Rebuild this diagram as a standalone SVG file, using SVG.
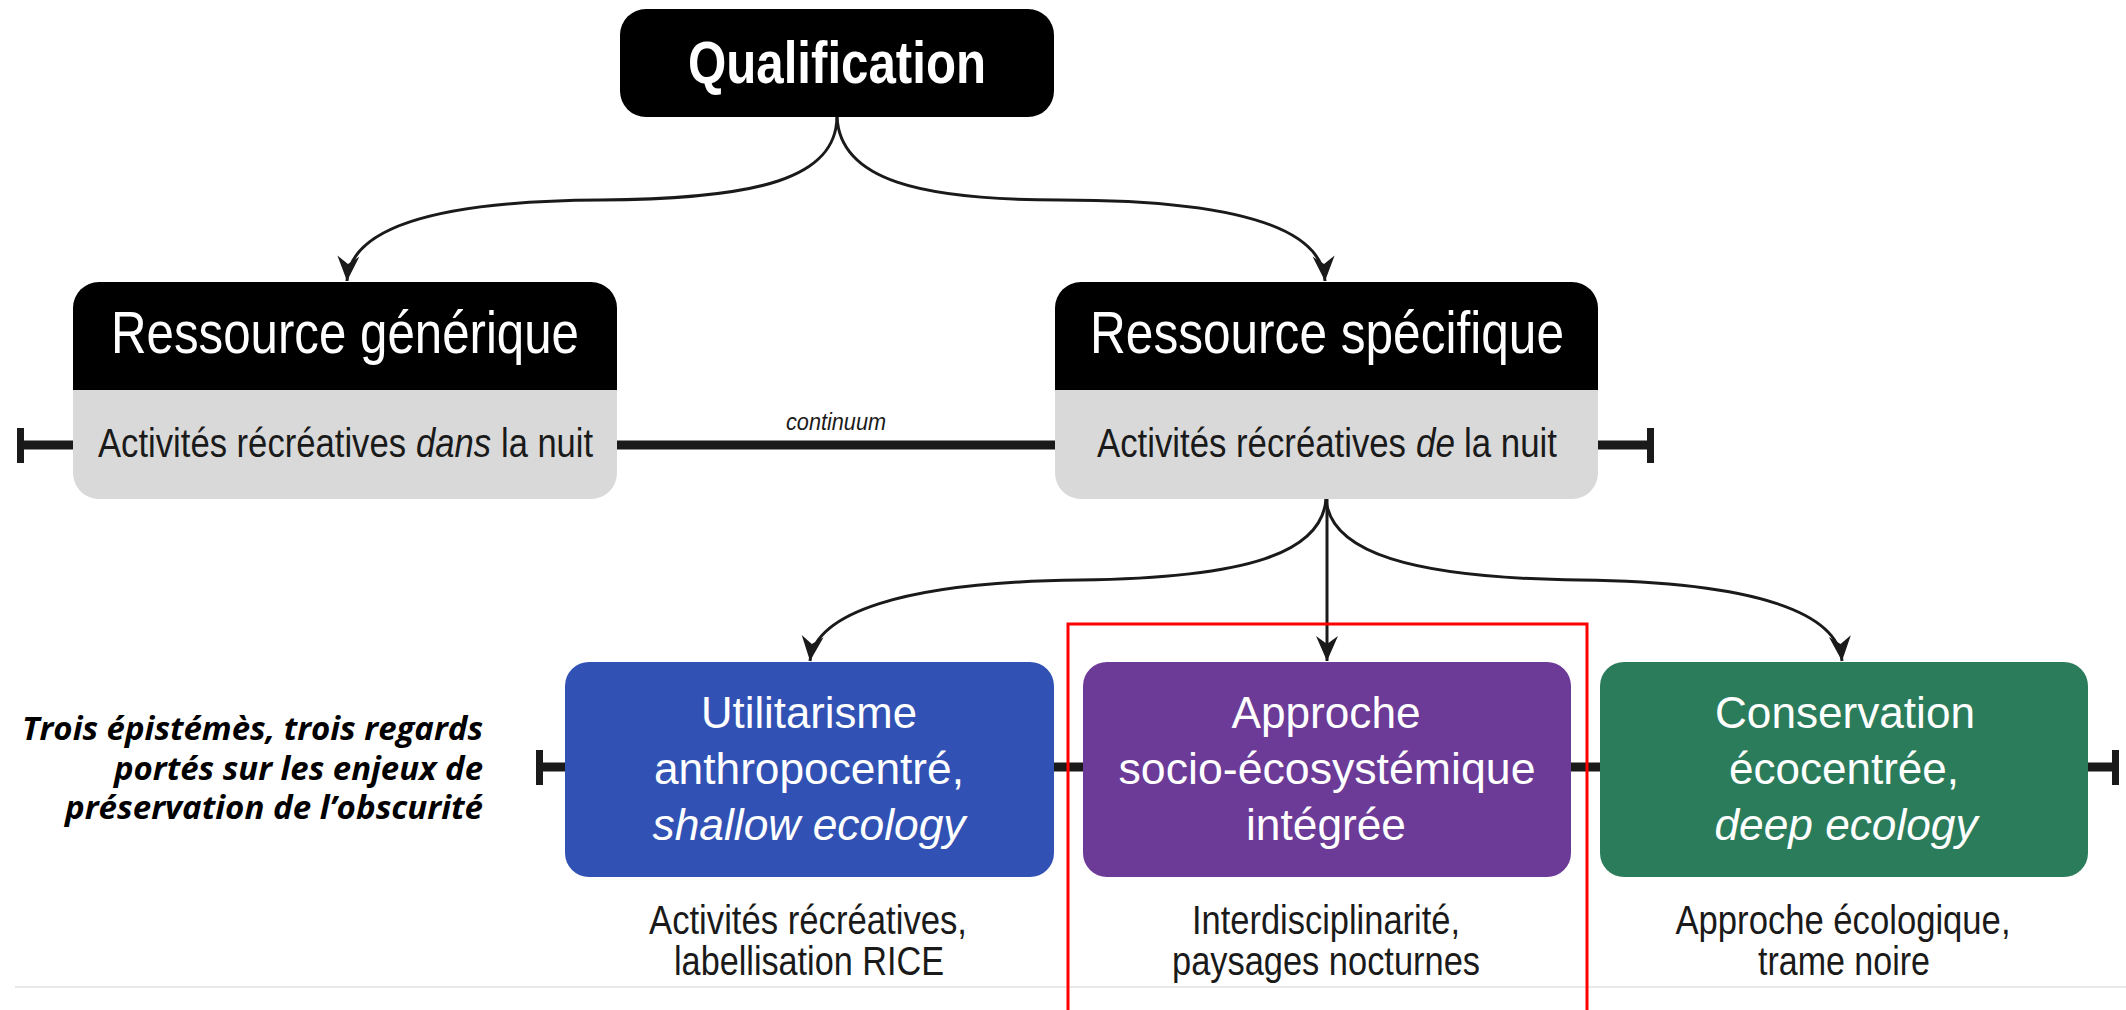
<svg xmlns="http://www.w3.org/2000/svg" width="2126" height="1010" viewBox="0 0 2126 1010">
<style>
.t{font-family:"Liberation Sans",Arial,sans-serif;text-anchor:middle}
.s{font-family:"Liberation Sans",Arial,sans-serif;text-anchor:start}
.w{fill:#ffffff}
.k{fill:#1a1a1a}
.title{font-size:60px}
.sub{font-size:40px}
.node{font-size:45px}
.cap{font-size:40px}
.it{font-style:italic}
.arrow{fill:none;stroke:#1a1a1a;stroke-width:3}
.bar{stroke:#1a1a1a;stroke-width:9;fill:none}
.tick{fill:#1a1a1a}
.side{font-family:"Open Sans","Noto Sans",sans-serif;font-weight:700;font-style:italic;font-size:32px;text-anchor:end;fill:#000}
</style>
<defs>
<marker id="ah" markerUnits="userSpaceOnUse" viewBox="-26 -13 28 26" markerWidth="28" markerHeight="26" refX="0" refY="0" orient="auto">
<path d="M0,0 L-25,-11 L-17,0 L-25,11 Z" fill="#1a1a1a"/>
</marker>
</defs>
<rect x="0" y="0" width="2126" height="1010" fill="#ffffff"/>
<line x1="15" y1="987" x2="2126" y2="987" stroke="#e8e8e8" stroke-width="2"/>

<g id="connectors">
<path class="bar" d="M22,445 H1650"/>
<rect class="tick" x="17" y="428" width="7" height="35"/>
<rect class="tick" x="1647" y="428" width="7" height="35"/>
<path class="bar" d="M541,767 H2115"/>
<rect class="tick" x="536" y="750" width="7" height="35"/>
<rect class="tick" x="2112" y="750" width="7" height="35"/>
<path class="arrow" marker-end="url(#ah)" d="M837,117 C836,178 760,199 600,200 C440,201 350,226 347,281"/>
<path class="arrow" marker-end="url(#ah)" d="M837,117 C840,180 920,200 1060,200 C1230,200 1322,226 1325,281"/>
<path class="arrow" marker-end="url(#ah)" d="M1326,499 C1322,552 1250,578 1080,580 C900,582 815,614 810,661"/>
<path class="arrow" marker-end="url(#ah)" d="M1327,499 L1327,661"/>
<path class="arrow" marker-end="url(#ah)" d="M1326,499 C1330,552 1410,578 1580,580 C1760,582 1838,614 1842,661"/>
<text class="t it k" x="836" y="430" font-size="23" textLength="100" lengthAdjust="spacingAndGlyphs">continuum</text>
</g>

<g id="qualification">
<rect x="620" y="9" width="434" height="108" rx="26" fill="#000"/>
<text class="t w title" x="837" y="83" font-weight="700" textLength="298" lengthAdjust="spacingAndGlyphs">Qualification</text>
</g>

<g id="ressource-generique">
<path d="M73,390 V308 A26,26 0 0 1 99,282 H591 A26,26 0 0 1 617,308 V390 Z" fill="#000"/>
<path d="M73,390 H617 V473 A26,26 0 0 1 591,499 H99 A26,26 0 0 1 73,473 Z" fill="#d9d9d9"/>
<text class="t w title" x="345" y="353" textLength="468" lengthAdjust="spacingAndGlyphs">Ressource générique</text>
<text class="s k sub" x="98" y="457" textLength="308" lengthAdjust="spacingAndGlyphs">Activités récréatives</text>
<text class="s k sub it" x="416" y="457" textLength="75" lengthAdjust="spacingAndGlyphs">dans</text>
<text class="s k sub" x="501" y="457" textLength="92" lengthAdjust="spacingAndGlyphs">la nuit</text>
</g>

<g id="ressource-specifique">
<path d="M1055,390 V308 A26,26 0 0 1 1081,282 H1572 A26,26 0 0 1 1598,308 V390 Z" fill="#000"/>
<path d="M1055,390 H1598 V473 A26,26 0 0 1 1572,499 H1081 A26,26 0 0 1 1055,473 Z" fill="#d9d9d9"/>
<text class="t w title" x="1327" y="353" textLength="474" lengthAdjust="spacingAndGlyphs">Ressource spécifique</text>
<text class="s k sub" x="1097" y="457" textLength="309" lengthAdjust="spacingAndGlyphs">Activités récréatives</text>
<text class="s k sub it" x="1416" y="457" textLength="39" lengthAdjust="spacingAndGlyphs">de</text>
<text class="s k sub" x="1464" y="457" textLength="93" lengthAdjust="spacingAndGlyphs">la nuit</text>
</g>

<g id="side-label">
<text class="side" x="483" y="740" textLength="461" lengthAdjust="spacingAndGlyphs">Trois épistémès, trois regards</text>
<text class="side" x="483" y="780" textLength="369" lengthAdjust="spacingAndGlyphs">portés sur les enjeux de</text>
<text class="side" x="483" y="819" textLength="418" lengthAdjust="spacingAndGlyphs">préservation de l’obscurité</text>
</g>

<g id="utilitarisme">
<rect x="565" y="662" width="489" height="215" rx="24" fill="#3152b4"/>
<text class="t w node" x="809" y="728" textLength="216" lengthAdjust="spacingAndGlyphs">Utilitarisme</text>
<text class="t w node" x="809" y="784" textLength="310" lengthAdjust="spacingAndGlyphs">anthropocentré,</text>
<text class="t w node it" x="809" y="840" textLength="313" lengthAdjust="spacingAndGlyphs">shallow ecology</text>
<text class="t k cap" x="808" y="934" textLength="318" lengthAdjust="spacingAndGlyphs">Activités récréatives,</text>
<text class="t k cap" x="809" y="975" textLength="270" lengthAdjust="spacingAndGlyphs">labellisation RICE</text>
</g>

<g id="socio-ecosystemique">
<rect x="1083" y="662" width="488" height="215" rx="24" fill="#6c3a97"/>
<text class="t w node" x="1326" y="728" textLength="189" lengthAdjust="spacingAndGlyphs">Approche</text>
<text class="t w node" x="1327" y="784" textLength="417" lengthAdjust="spacingAndGlyphs">socio-écosystémique</text>
<text class="t w node" x="1326" y="840" textLength="160" lengthAdjust="spacingAndGlyphs">intégrée</text>
<text class="t k cap" x="1326" y="934" textLength="268" lengthAdjust="spacingAndGlyphs">Interdisciplinarité,</text>
<text class="t k cap" x="1326" y="975" textLength="308" lengthAdjust="spacingAndGlyphs">paysages nocturnes</text>
</g>

<g id="conservation">
<rect x="1600" y="662" width="488" height="215" rx="24" fill="#2b7c5b"/>
<text class="t w node" x="1845" y="728" textLength="260" lengthAdjust="spacingAndGlyphs">Conservation</text>
<text class="t w node" x="1844" y="784" textLength="230" lengthAdjust="spacingAndGlyphs">écocentrée,</text>
<text class="t w node it" x="1846" y="840" textLength="263" lengthAdjust="spacingAndGlyphs">deep ecology</text>
<text class="t k cap" x="1843" y="934" textLength="335" lengthAdjust="spacingAndGlyphs">Approche écologique,</text>
<text class="t k cap" x="1844" y="975" textLength="172" lengthAdjust="spacingAndGlyphs">trame noire</text>
</g>

<g id="highlight">
<path d="M1068,1012 V624 H1587 V1012" fill="none" stroke="#ff0000" stroke-width="3"/>
</g>
</svg>
